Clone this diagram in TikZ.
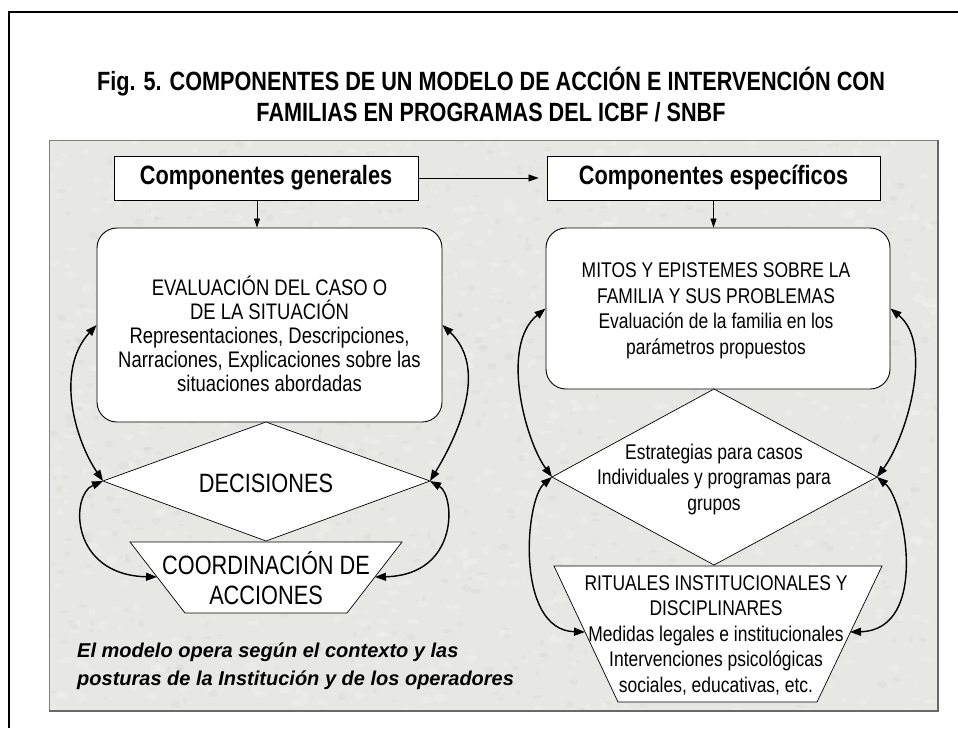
\documentclass[tikz,border=0pt]{standalone}
\usepackage{fontspec}
\setmainfont{Liberation Sans}
\newfontfamily\narf{Liberation Sans}[FakeStretch=0.82]
\usetikzlibrary{arrows.meta}
\definecolor{panelgray}{RGB}{231,231,228}
\definecolor{paneledge}{RGB}{105,105,105}
\tikzset{
  hdrbox/.style={draw, fill=white, line width=0.9pt, font=\narf\bfseries\fontsize{26.5}{30}\selectfont, inner sep=0pt},
  rbox/.style={draw, fill=white, rounded corners=20pt, line width=0.9pt, inner sep=0pt},
  shapefill/.style={draw, fill=white, line width=0.7pt},
  txtA/.style={align=center, font=\narf\fontsize{22.5}{24}\selectfont, inner sep=0pt},
  txtB/.style={align=center, font=\narf\fontsize{21.3}{25.5}\selectfont, inner sep=0pt},
  txtC/.style={align=center, font=\narf\fontsize{26.5}{30}\selectfont, inner sep=0pt},
  dblarrow/.style={{Triangle[length=11pt,width=8pt]}-{Triangle[length=11pt,width=8pt]}, line width=1.4pt},
  downarrow/.style={-{Triangle[length=9pt,width=6pt]}, line width=0.8pt},
}
\begin{document}
\begin{tikzpicture}[x=1pt,y=-1pt]
\useasboundingbox (0,0) rectangle (958,728);
\fill[white] (0,0) rectangle (958,728);
\draw[line width=1.3pt] (9,728) -- (9,12) -- (958,12);
\node[font=\narf\bfseries\fontsize{26.4}{31}\selectfont, align=center, inner sep=0pt] (title) at (491,94.5)
  {Fig. 5. COMPONENTES DE UN MODELO DE ACCIÓN E INTERVENCIÓN CON\\FAMILIAS EN PROGRAMAS DEL ICBF / SNBF};
% panel with a faint mottled texture
\fill[panelgray] (49,140) rectangle (938,711);
\begin{scope}
  \clip (49,140) rectangle (938,711);
  \pgfmathsetseed{11}
  \foreach \i in {1,...,900} {
    \pgfmathsetmacro\px{49+889*rnd}
    \pgfmathsetmacro\py{140+571*rnd}
    \pgfmathsetmacro\rx{2+5*rnd}
    \pgfmathsetmacro\ry{1.5+3*rnd}
    \fill[white, opacity=0.18] (\px,\py) ellipse ({\rx pt} and {\ry pt});
  }
  \foreach \i in {1,...,600} {
    \pgfmathsetmacro\px{49+889*rnd}
    \pgfmathsetmacro\py{140+571*rnd}
    \pgfmathsetmacro\rx{1.5+4*rnd}
    \pgfmathsetmacro\ry{1+3*rnd}
    \fill[black, opacity=0.025] (\px,\py) ellipse ({\rx pt} and {\ry pt});
  }
\end{scope}
\draw[gray, line width=1pt] (49,711) -- (49,140) -- (938,140);
\draw[paneledge, line width=1.6pt] (938,140) -- (938,711) -- (49,711);
% headers
\node[hdrbox, minimum width=304pt, minimum height=44pt] (cg) at (266,178) {Componentes generales};
\node[hdrbox, minimum width=333pt, minimum height=44pt] (ce) at (713.5,178) {Componentes específicos};
\draw[-{Triangle[length=10pt,width=7pt]}, line width=0.8pt, shorten >=8pt] (cg.east) -- (ce.west);
% left column
\node[rbox, minimum width=345pt, minimum height=194pt] (eval) at (269.5,325) {};
\draw[downarrow] ([xshift=-9pt]cg.south) -- ([xshift=-12.5pt]eval.north);
\coordinate (d1t) at (266,422);
\coordinate (d1l) at (103,481);
\coordinate (d1r) at (430,481);
\coordinate (d1b) at (266,541);
\draw[shapefill] (d1t) -- (d1r) -- (d1b) -- (d1l) -- cycle;
\coordinate (t1a) at (130,542);
\coordinate (t1b) at (402,542);
\coordinate (t1c) at (347,613);
\coordinate (t1d) at (185,613);
\draw[shapefill] (t1a) -- (t1b) -- (t1c) -- (t1d) -- cycle;
\coordinate (t1w) at (157,577);
\coordinate (t1e) at (375,577);
% right column
\node[rbox, minimum width=344pt, minimum height=161pt] (mitos) at (718,308.5) {};
\draw[downarrow] (ce.south) -- (ce.south |- mitos.north);
\coordinate (d2t) at (714,389);
\coordinate (d2l) at (552,477);
\coordinate (d2r) at (877,477);
\coordinate (d2b) at (714,565);
\draw[shapefill] (d2t) -- (d2r) -- (d2b) -- (d2l) -- cycle;
\coordinate (t2a) at (554,566);
\coordinate (t2b) at (882,566);
\coordinate (t2c) at (817,702);
\coordinate (t2d) at (618,702);
\draw[shapefill] (t2a) -- (t2b) -- (t2c) -- (t2d) -- cycle;
\coordinate (t2w) at (585,632);
\coordinate (t2e) at (850,632);
% curved connectors
\draw[dblarrow] (d1l) .. controls (75,440) and (55,370) .. (eval.west);
\draw[dblarrow] (d1l) .. controls (70,495) and (70,575) .. (t1w);
\draw[dblarrow] (d1r) .. controls (455,440) and (490,370) .. (eval.east);
\draw[dblarrow] (d1r) .. controls (455,495) and (460,575) .. (t1e);
\draw[dblarrow] (d2l) .. controls (525,440) and (500,345) .. (mitos.west);
\draw[dblarrow] (d2l) .. controls (525,500) and (515,630) .. (t2w);
\draw[dblarrow] (d2r) .. controls (905,440) and (935,345) .. (mitos.east);
\draw[dblarrow] (d2r) .. controls (905,500) and (930,630) .. (t2e);
% texts
\node[txtA] (evalt) at (269.5,334) {EVALUACIÓN DEL CASO O\\DE LA SITUACIÓN\\Representaciones, Descripciones,\\Narraciones, Explicaciones sobre las\\situaciones abordadas};
\node[txtC] (dect) at (266,483) {DECISIONES};
\node[txtC] (coordt) at (266,578) {COORDINACIÓN DE\\ACCIONES};
\node[txtB] (mitost) at (716,311) {MITOS Y EPISTEMES SOBRE LA\\FAMILIA Y SUS PROBLEMAS\\Evaluación de la familia en los\\parámetros propuestos};
\node[txtB] (estrt) at (714,479) {Estrategias para casos\\Individuales y programas para\\grupos};
\node[txtB] (ritt) at (716,635) {RITUALES INSTITUCIONALES Y\\DISCIPLINARES\\Medidas legales e institucionales\\Intervenciones psicológicas\\sociales, educativas, etc.};
\node[anchor=west, align=left, font=\bfseries\itshape\fontsize{20}{28}\selectfont, inner sep=0pt] (nota) at (77,666)
  {El modelo opera según el contexto y las\\posturas de la Institución y de los operadores};
\end{tikzpicture}
\end{document}
